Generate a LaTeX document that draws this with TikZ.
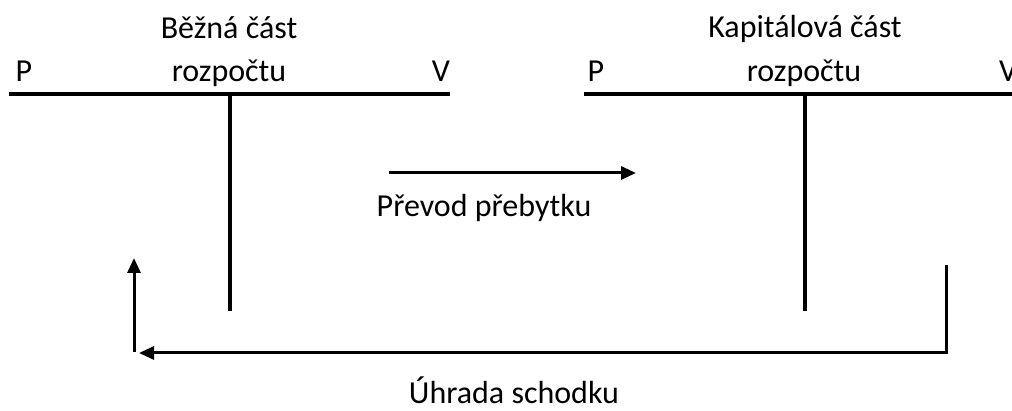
\documentclass[tikz,border=0pt]{standalone}
\usepackage{fontspec}
\setmainfont{Carlito}
\usetikzlibrary{arrows.meta}
\begin{document}
\begin{tikzpicture}[x=1pt,y=-1pt,
  tbar/.style={line width=4.5pt},
  flow/.style={line width=3pt,-{Triangle[length=15pt,width=13pt]}},
  lbl/.style={inner sep=0pt,anchor=base,font=\fontsize{32}{36}\selectfont}]
\useasboundingbox (0,0) rectangle (1012,411);
% left T
\coordinate (l1) at (9,94);
\coordinate (l2) at (450,94);
\coordinate (lt) at (230,94);
\coordinate (lb) at (230,311);
\draw[tbar] (l1) -- (l2);
\draw[tbar] (lt) -- (lb);
\node[lbl] (lh1) at (229,39) {Běžná část};
\node[lbl] (lh2) at (229,82) {rozpočtu};
\node[lbl] (lp) at (24,82) {P};
\node[lbl] (lv) at (441,82) {V};
% right T
\coordinate (r1) at (584,94);
\coordinate (r2) at (1020,94);
\coordinate (rt) at (805,94);
\coordinate (rb) at (805,311);
\draw[tbar] (r1) -- (r2);
\draw[tbar] (rt) -- (rb);
\node[lbl] (rh1) at (805,38) {Kapitálová část};
\node[lbl] (rh2) at (804,82) {rozpočtu};
\node[lbl] (rp) at (596,82) {P};
\node[lbl,anchor=base west] (rv) at (999,82) {V};
% transfer arrow
\coordinate (ta) at (389,173);
\coordinate (tb) at (636,173);
\draw[flow] (ta) -- (tb);
\node[lbl] (tl) at (484,217) {Převod přebytku};
% deficit
\coordinate (d1) at (946,265);
\coordinate (d2) at (946,353);
\coordinate (d3) at (139,353);
\draw[flow] (d1) -- (d2) -- (d3);
\coordinate (u1) at (134,352);
\coordinate (u2) at (134,258);
\draw[flow] (u1) -- (u2);
\node[lbl] (dl) at (514,403) {Úhrada schodku};
\end{tikzpicture}
\end{document}
